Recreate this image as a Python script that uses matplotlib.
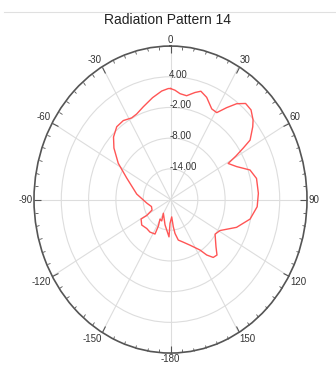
import numpy as np
import matplotlib
matplotlib.use('Agg')
import matplotlib.pyplot as plt
from matplotlib.lines import Line2D

plt.rcParams['font.family'] = ['Liberation Sans', 'DejaVu Sans']

# Pattern: angle (deg, clockwise from top) and gain (dB)
theta_deg = [0, 2.6, 5.8, 9.9, 14.4, 17.5, 21.7, 27.1, 30.9, 34.5, 37.8, 41.3,
             45.3, 49.4, 51.8, 56.4, 57.8, 59.4, 60.9, 66.1, 71.7, 77.7, 86.4,
             94.2, 102.3, 110.5, 119.1, 124.6, 132.7, 136.7, 140.3, 143.7, 146.7,
             154.3, 161.3, 167.8, 171.5, 173.4, 175.5, 181.3, 182.6, 188, 193.6,
             210.4, 204.7, 211.2, 207.3, 206.8, 215.4, 222.7, 231.8, 239.6, 239.2,
             243.2, 251.9, 261.8, 278.2, 293.6, 301.7, 309, 314.3, 320.3, 326.1,
             331.8, 336, 341.8, 348.8, 354.8, 358.7, 360]
gain_db = [1.7, 1.4, 0.8, 0.6, 1.6, 2.2, 1.5, -0.1, -0.2, 1.8, 3.7, 5.0,
           4.9, 3.9, 3.0, 1.0, -1.1, -3.3, -5.5, -4.1, -1.6, -0.65, -0.65,
           -0.9, -2.1, -4.5, -7.55, -8.1, -6.4, -5.1, -5.3, -6.55, -8.2,
           -10.1, -11.2, -11.9, -13.3, -14.65, -16.6, -15.35, -12.7, -14.0, -14.9,
           -16.9, -15.4, -15.55, -14.2, -12.45, -12.2, -12.3, -11.95, -12.5, -13.9,
           -15.45, -15.6, -14.8, -12.5, -9.5, -6.5, -4.0, -2.5, -1.5, -1.4,
           -1.9, -1.7, -0.9, 0.3, 1.3, 1.7, 1.7]

rings = [-14, -8, -2, 4]
ring_labels = ['-14.00', '-8.00', '-2.00', '4.00']
angle_ticks = list(range(0, 360, 30))
angle_labels = ['0', '30', '60', '90', '120', '150', '-180', '-150', '-120', '-90', '-60', '-30']

fig = plt.figure(figsize=(3.36, 3.67), dpi=100)
ax = fig.add_axes([0.1012, 0.038, 0.8125, 0.8365], projection='polar')
ax.set_aspect('auto')
ax.set_theta_zero_location('N')
ax.set_theta_direction(-1)
ax.set_rlim(-20, 10)

ax.plot(np.radians(theta_deg), gain_db, color='#ff5555', lw=1.0)

ax.set_rticks(rings)
ax.set_yticklabels([])
for r, lab in zip(rings, ring_labels):
    ax.annotate(lab, xy=(0, r), xytext=(-1, 1.5), textcoords='offset points',
                ha='left', va='center', fontsize=7, color='#333333')

ax.set_xticks(np.radians(angle_ticks))
ax.set_xticklabels(angle_labels, fontsize=7, color='#333333')
ax.set_xticks(np.radians(np.arange(0, 360, 5)), minor=True)
# ticks on the outer edge, pointing inward
ax.tick_params(axis='x', which='both', top=True, bottom=False, direction='in',
               color='#555555')
ax.tick_params(axis='x', which='major', length=5, width=0.8, pad=-6)
ax.tick_params(axis='x', which='minor', length=2.5, width=0.6)
ax.grid(True, color='#dddddd', lw=0.8)
ax.spines['polar'].set_color('#555555')
ax.spines['polar'].set_linewidth(1.2)

fig.suptitle('Radiation Pattern 14', y=0.946, va='center', fontsize=10, color='#222222')
fig.add_artist(Line2D([0.012, 1.0], [0.966, 0.966], color='#e0e0e0', lw=0.8))

# anchor angle labels by their edge nearest the circle
fig.canvas.draw()
for ang, lbl in zip(angle_ticks, ax.get_xticklabels()):
    s, c = np.sin(np.radians(ang)), np.cos(np.radians(ang))
    lbl.set_ha('left' if s > 0.3 else 'right' if s < -0.3 else 'center')
    lbl.set_va('bottom' if c > 0.3 else 'top' if c < -0.3 else 'center')

fig.savefig('out.png', dpi=100)
